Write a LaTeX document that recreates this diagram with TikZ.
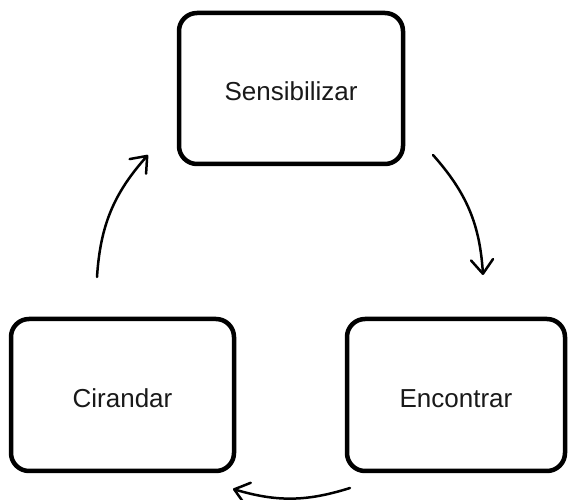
\documentclass[tikz,border=0pt]{standalone}
\usepackage{fontspec}
\setmainfont{Liberation Sans}
\usetikzlibrary{arrows.meta}

\begin{document}
\begin{tikzpicture}[x=1pt,y=1pt,
    stage/.style={draw, line width=4.5pt, rounded corners=18pt, text height=25pt,
      text=gray!20!black, font=\fontsize{26}{30}\selectfont},
    flow/.style={line width=2.5pt, line cap=round,
      -{Straight Barb[length=14pt,width=22pt,round]}}]
  \useasboundingbox (0,0) rectangle (568,500);
  \node[stage, minimum width=224pt, minimum height=151pt] (sens) at (291,411.5) {Sensibilizar};
  \node[stage, minimum width=223pt, minimum height=152pt] (cir) at (122.5,105) {Cirandar};
  \node[stage, minimum width=218pt, minimum height=152pt] (enc) at (456,105) {Encontrar};
  % loose ends of the cycle arrows
  \coordinate (sens-out) at (433,345);
  \coordinate (enc-in) at (483,225);
  \coordinate (enc-out) at (350,12);
  \coordinate (cir-in) at (233,11);
  \coordinate (cir-out) at (97,223);
  \coordinate (sens-in) at (148,345);
  \draw[flow] (sens-out) to[bend left=19] (enc-in);
  \draw[flow] (enc-out) to[bend left=17] (cir-in);
  \draw[flow] (cir-out) to[bend left=19] (sens-in);
\end{tikzpicture}
\end{document}
